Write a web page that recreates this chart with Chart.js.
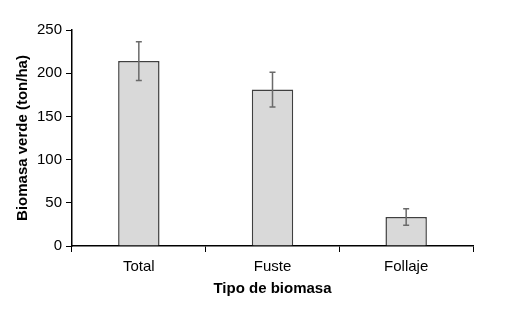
<!DOCTYPE html>
<html>
<head>
<meta charset="utf-8">
<script src="https://cdn.jsdelivr.net/npm/chart.js@4/dist/chart.umd.min.js"></script>
<style>
  html, body { margin: 0; padding: 0; background: #fff; }
  #wrap { width: 528px; height: 318px; }
</style>
</head>
<body>
<div id="wrap"><canvas id="c"></canvas></div>
<script>
const categories = ['Total', 'Fuste', 'Follaje'];
const biomass = [214, 181, 33.5];
const errors = [22.5, 20, 9.6];
const yTicks = [0, 50, 100, 150, 200, 250];

const errorBars = {
  id: 'errorBars',
  afterDatasetsDraw(chart) {
    const { ctx } = chart;
    const y = chart.scales.y;
    const meta = chart.getDatasetMeta(0);
    ctx.save();
    ctx.strokeStyle = '#6a6a6a';
    ctx.lineWidth = 1.5;
    meta.data.forEach((bar, i) => {
      const top = y.getPixelForValue(biomass[i] + errors[i]);
      const bot = y.getPixelForValue(biomass[i] - errors[i]);
      ctx.beginPath();
      ctx.moveTo(bar.x, top); ctx.lineTo(bar.x, bot);
      ctx.moveTo(bar.x - 3, top); ctx.lineTo(bar.x + 3, top);
      ctx.moveTo(bar.x - 3, bot); ctx.lineTo(bar.x + 3, bot);
      ctx.stroke();
    });
    ctx.restore();
  }
};

const font = { family: 'Liberation Sans, Arial', size: 15 };
const bold = { family: 'Liberation Sans, Arial', size: 15, weight: 'bold' };

new Chart(document.getElementById('c'), {
  type: 'bar',
  data: {
    labels: categories,
    datasets: [{
      data: biomass,
      backgroundColor: '#d9d9d9',
      borderColor: '#404040',
      borderWidth: 1.5,
      categoryPercentage: 1,
      barPercentage: 0.31
    }]
  },
  options: {
    responsive: true,
    maintainAspectRatio: false,
    animation: false,
    layout: { padding: { left: 10, right: 55, top: 30, bottom: 16 } },
    plugins: { legend: { display: false }, tooltip: { enabled: false } },
    scales: {
      x: {
        grid: { display: true, drawOnChartArea: false, color: '#000', tickLength: 6, offset: true },
        border: { color: '#000', width: 1.5 },
        ticks: { color: '#000', font: font, padding: 6 },
        title: { display: true, text: 'Tipo de biomasa', color: '#000', font: bold, padding: { top: 2 } },
        afterFit(s) { s.height = 56; }
      },
      y: {
        min: 0, max: 250,
        afterBuildTicks(s) { s.ticks = yTicks.map(v => ({ value: v })); },
        grid: { display: true, drawOnChartArea: false, color: '#000', tickLength: 6 },
        border: { color: '#000', width: 1.5 },
        ticks: { color: '#000', font: font, padding: 4 },
        title: { display: true, text: 'Biomasa verde (ton/ha)', color: '#000', font: bold, padding: { bottom: 2 } },
        afterFit(s) { s.width = 62; }
      }
    }
  },
  plugins: [errorBars]
});
</script>
</body>
</html>
